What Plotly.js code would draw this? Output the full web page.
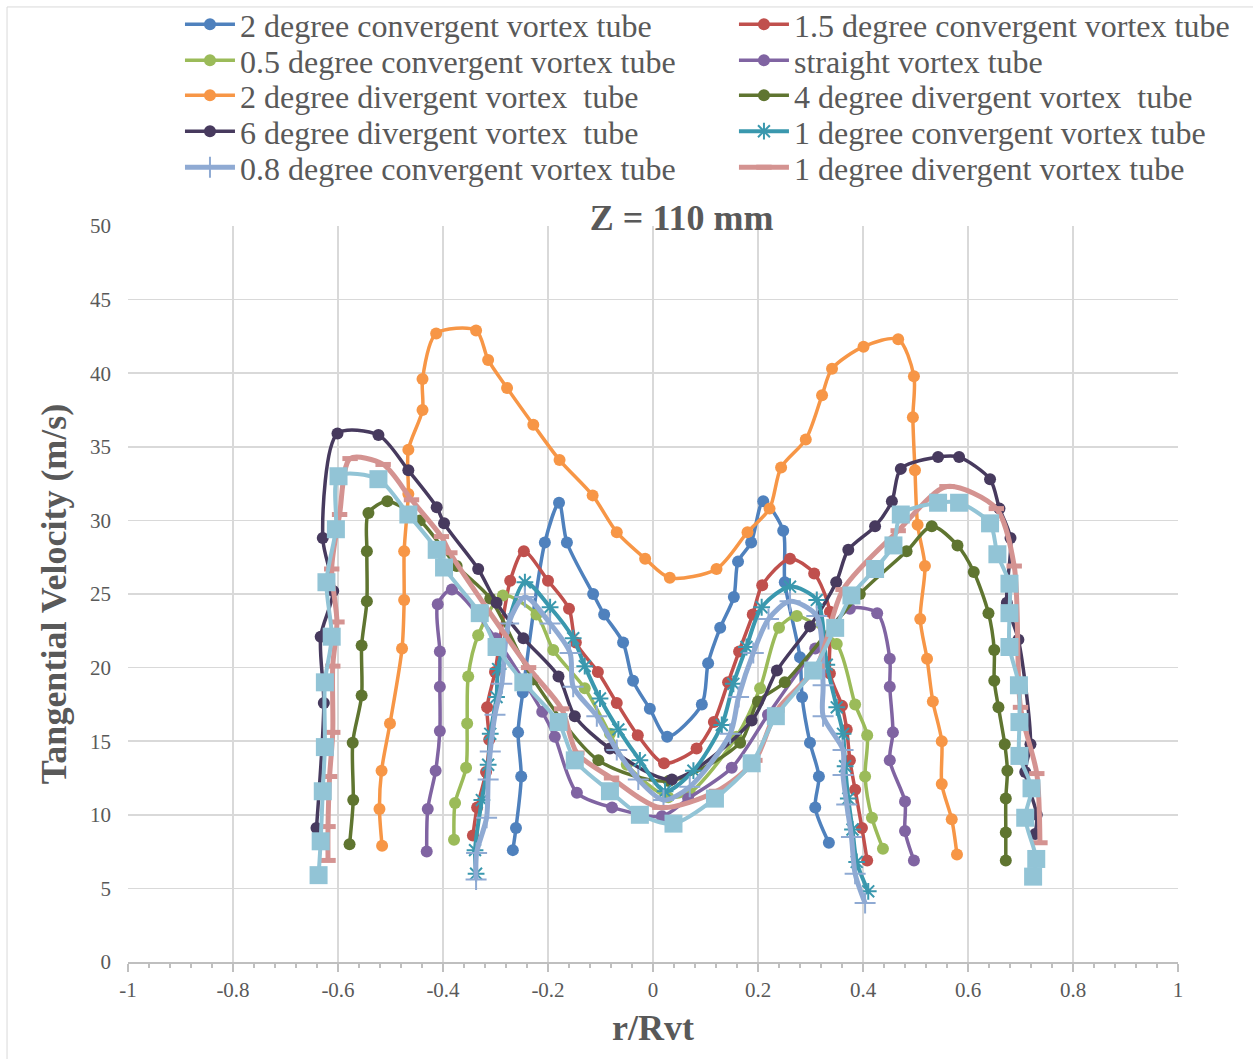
<!DOCTYPE html>
<html>
<head>
<meta charset="utf-8">
<script src="https://cdn.plot.ly/plotly-3.0.1.min.js"></script>
<style>html,body{margin:0;padding:0;background:#fff;}#chart{width:1253px;height:1059px;}</style>
</head>
<body>
<div id="chart"></div>
<script>
// ---- data (r/Rvt, tangential velocity m/s) ----
const conv2_x = [-0.267,-0.261,-0.251,-0.257,-0.248,-0.206,-0.179,-0.164,-0.114,-0.093,-0.057,-0.038,-0.006,0.027,0.093,0.105,0.128,0.154,0.162,0.187,0.210,0.248,0.251,0.280,0.284,0.299,0.316,0.309,0.335];
const conv2_y = [7.6,9.1,12.6,15.6,18.3,28.5,31.2,28.5,25.0,23.6,21.7,19.1,17.2,15.3,17.5,20.3,22.7,24.8,27.2,28.5,31.3,29.3,25.8,20.7,18.0,14.9,12.6,10.5,8.1];

const conv15_x = [-0.343,-0.335,-0.318,-0.312,-0.316,-0.301,-0.272,-0.246,-0.200,-0.160,-0.147,-0.105,-0.069,-0.029,0.021,0.083,0.116,0.143,0.164,0.190,0.208,0.261,0.307,0.337,0.337,0.360,0.369,0.375,0.385,0.398,0.408];
const conv15_y = [8.6,10.5,12.9,15.1,17.3,19.7,25.9,27.9,25.9,24.0,21.7,19.7,17.6,15.4,13.5,14.5,16.3,19.0,21.1,23.6,25.6,27.4,26.4,23.8,19.6,17.4,15.8,13.7,11.7,9.1,6.9];

const conv05_x = [-0.379,-0.377,-0.356,-0.354,-0.352,-0.333,-0.286,-0.222,-0.190,-0.130,-0.082,-0.050,0.029,0.070,0.159,0.204,0.240,0.274,0.350,0.385,0.408,0.404,0.417,0.438];
const conv05_y = [8.3,10.8,13.2,16.2,19.4,22.2,24.9,23.6,21.2,18.6,15.5,13.4,11.2,11.5,15.3,18.6,22.7,23.5,21.6,17.5,15.4,12.6,9.8,7.7];

const straight_x = [-0.431,-0.429,-0.414,-0.406,-0.406,-0.406,-0.410,-0.383,-0.300,-0.211,-0.187,-0.145,-0.078,0.017,0.067,0.150,0.219,0.309,0.375,0.427,0.451,0.451,0.457,0.451,0.480,0.480,0.497];
const straight_y = [7.5,10.4,13.0,15.7,18.7,21.1,24.3,25.3,22.0,17.0,15.3,11.5,10.5,9.9,11.1,13.2,16.8,21.3,24.0,23.7,20.6,18.7,15.6,13.7,10.9,8.9,6.9];

const div2_x = [-0.516,-0.521,-0.517,-0.501,-0.478,-0.474,-0.474,-0.466,-0.466,-0.439,-0.439,-0.413,-0.337,-0.314,-0.278,-0.228,-0.178,-0.115,-0.069,-0.015,0.032,0.121,0.180,0.222,0.244,0.291,0.322,0.341,0.401,0.467,0.497,0.495,0.499,0.504,0.518,0.509,0.522,0.533,0.550,0.550,0.569,0.579];
const div2_y = [7.9,10.4,13.0,16.2,21.3,24.6,27.9,31.8,34.8,37.5,39.6,42.7,42.9,40.9,39.0,36.5,34.1,31.7,29.2,27.4,26.1,26.7,29.2,30.8,33.6,35.5,38.5,40.3,41.8,42.3,39.8,37.0,33.4,29.7,26.9,23.3,20.6,17.7,15.0,12.1,9.7,7.3];

const div4_x = [-0.578,-0.571,-0.572,-0.555,-0.555,-0.545,-0.545,-0.542,-0.506,-0.444,-0.374,-0.310,-0.228,-0.104,0.030,0.166,0.200,0.251,0.394,0.483,0.531,0.580,0.611,0.639,0.650,0.650,0.658,0.670,0.675,0.672,0.672,0.672];
const div4_y = [8.0,11.0,14.9,18.1,21.5,24.5,27.9,30.5,31.3,30.0,26.9,24.7,19.2,13.7,12.3,14.9,17.7,19.0,25.0,27.9,29.6,28.3,26.5,23.7,21.2,19.1,17.3,14.8,13.0,11.1,8.8,6.9];

const div6_x = [-0.641,-0.627,-0.633,-0.609,-0.629,-0.601,-0.523,-0.466,-0.412,-0.398,-0.333,-0.298,-0.247,-0.180,-0.149,-0.082,0.036,0.188,0.236,0.299,0.349,0.372,0.423,0.455,0.472,0.543,0.583,0.642,0.660,0.681,0.674,0.696,0.719,0.709,0.731,0.728];
const div6_y = [9.1,17.6,22.1,25.2,28.8,35.9,35.8,33.4,30.9,29.8,26.7,24.4,22.0,19.4,16.7,14.5,12.4,16.4,19.8,22.8,25.8,28.0,29.6,31.3,33.5,34.3,34.3,32.8,30.8,28.8,24.4,21.9,14.8,12.9,10.0,8.7];

const conv1_x = [-0.337,-0.339,-0.326,-0.314,-0.310,-0.298,-0.295,-0.244,-0.196,-0.152,-0.130,-0.101,-0.066,-0.025,0.023,0.077,0.131,0.153,0.178,0.207,0.261,0.312,0.331,0.350,0.362,0.366,0.372,0.380,0.388,0.410];
const conv1_y = [6.0,7.6,11.0,13.4,15.5,18.0,19.9,25.8,24.1,22.0,20.1,17.9,15.8,13.7,11.6,13.0,16.1,18.9,21.4,24.1,25.5,24.6,20.2,17.3,15.5,13.3,11.1,9.0,6.8,4.8];

const conv08_x = [-0.337,-0.336,-0.317,-0.314,-0.310,-0.301,-0.288,-0.275,-0.244,-0.196,-0.158,-0.152,-0.107,-0.069,-0.028,0.020,0.070,0.147,0.163,0.191,0.220,0.261,0.312,0.324,0.324,0.362,0.362,0.369,0.378,0.385,0.404];
const conv08_y = [5.6,7.4,9.8,12.4,14.3,16.8,18.9,23.0,24.8,23.0,21.0,18.7,16.7,14.4,12.4,11.0,11.9,15.5,18.0,21.0,23.3,24.5,23.5,18.8,16.7,14.4,12.7,10.7,8.5,6.0,4.0];

const div1_x = [-0.619,-0.619,-0.616,-0.610,-0.610,-0.602,-0.612,-0.597,-0.577,-0.514,-0.460,-0.403,-0.387,-0.237,-0.174,-0.145,-0.079,0.013,0.121,0.194,0.236,0.312,0.362,0.467,0.560,0.654,0.688,0.700,0.731,0.737];
const div1_y = [6.9,9.2,12.6,15.6,20.1,23.1,26.7,30.4,34.2,33.8,31.4,28.9,27.8,20.0,17.2,14.2,12.5,10.5,11.6,13.7,17.1,20.1,25.3,29.3,32.3,30.8,26.9,17.3,12.8,8.1];

const sq_x = [-0.637,-0.633,-0.629,-0.625,-0.625,-0.612,-0.622,-0.604,-0.599,-0.523,-0.466,-0.412,-0.398,-0.330,-0.298,-0.247,-0.180,-0.149,-0.082,-0.025,0.039,0.118,0.188,0.234,0.305,0.347,0.378,0.423,0.458,0.472,0.543,0.583,0.642,0.656,0.679,0.679,0.679,0.697,0.698,0.698,0.721,0.709,0.730,0.724];
const sq_y = [5.9,8.2,11.6,14.6,19.0,22.1,25.8,29.4,33.0,32.8,30.4,28.0,26.8,23.7,21.4,19.0,16.3,13.7,11.6,10.0,9.4,11.1,13.5,16.7,19.8,22.7,24.9,26.7,28.3,30.4,31.2,31.2,29.8,27.7,25.7,23.7,21.4,18.8,16.3,14.0,11.8,9.8,7.0,5.8];

const seriesNames = [
  "2 degree convergent vortex tube",
  "1.5 degree convergent vortex tube",
  "0.5 degree convergent vortex tube",
  "straight vortex tube",
  "2 degree divergent vortex  tube",
  "4 degree divergent vortex  tube",
  "6 degree divergent vortex  tube",
  "1 degree convergent vortex tube",
  "0.8 degree convergent vortex tube",
  "1 degree divergent vortex tube"
];
const xTickVals = [-1,-0.8,-0.6,-0.4,-0.2,0,0.2,0.4,0.6,0.8,1];
const xTickText = ["-1","-0.8","-0.6","-0.4","-0.2","0","0.2","0.4","0.6","0.8","1"];

// ---- styling ----
const FONT = "Liberation Serif, Times New Roman, serif";
const TXT = "#595959";
function legendKey(i) { return i === 0 ? "legend" : "legend" + (i + 1); }
function circ(x, y, i, color) {
  return {x, y, name: seriesNames[i], legend: legendKey(i), type: "scatter", mode: "lines+markers",
    line: {color, width: 3.5, shape: "spline", smoothing: 0.8},
    marker: {symbol: "circle", size: 12, color}};
}
const traces = [
  circ(conv2_x, conv2_y, 0, "#4F81BD"),
  circ(conv15_x, conv15_y, 1, "#C0504D"),
  circ(conv05_x, conv05_y, 2, "#9BBB59"),
  circ(straight_x, straight_y, 3, "#8064A2"),
  circ(div2_x, div2_y, 4, "#F79646"),
  circ(div4_x, div4_y, 5, "#5F7530"),
  circ(div6_x, div6_y, 6, "#473A5E"),
  {x: conv1_x, y: conv1_y, name: seriesNames[7], legend: legendKey(7), type: "scatter", mode: "lines+markers",
    line: {color: "#3A98AE", width: 4, shape: "spline", smoothing: 0.8},
    marker: {symbol: "asterisk-open", size: 14, color: "#3A98AE", line: {color: "#3A98AE", width: 2}}},
  {x: conv08_x, y: conv08_y, name: seriesNames[8], legend: legendKey(8), type: "scatter", mode: "lines+markers",
    line: {color: "#8FAAD3", width: 5, shape: "spline", smoothing: 0.8},
    marker: {symbol: "cross-thin-open", size: 15, color: "#8FAAD3", line: {color: "#8FAAD3", width: 2}}},
  {x: div1_x, y: div1_y, name: seriesNames[9], legend: legendKey(9), type: "scatter", mode: "lines+markers",
    line: {color: "#D49391", width: 5, shape: "spline", smoothing: 0.8},
    marker: {symbol: "line-ew-open", size: 11, color: "#D49391", line: {color: "#D49391", width: 5}}},
  {x: sq_x, y: sq_y, name: "", showlegend: false, type: "scatter", mode: "lines+markers",
    line: {color: "#92C4D6", width: 4, shape: "spline", smoothing: 0.8},
    marker: {symbol: "square", size: 18, color: "#92C4D6"}}
];

const layout = {
  width: 1253, height: 1059,
  margin: {l: 128, r: 75, t: 226, b: 97, autoexpand: false},
  paper_bgcolor: "#ffffff", plot_bgcolor: "#ffffff",
  font: {family: FONT, color: TXT, size: 21},
  showlegend: true,
  title: {text: "<b>Z = 110 mm</b>", font: {family: FONT, size: 36, color: TXT},
    xref: "container", x: 0.544, xanchor: "center", yref: "container", y: 0.795, yanchor: "middle"},
  xaxis: {range: [-1, 1], tickvals: xTickVals, ticktext: xTickText,
    showgrid: true, gridcolor: "#D9D9D9", gridwidth: 1.5, zeroline: false,
    showline: true, linecolor: "#BFBFBF", linewidth: 1.5,
    ticks: "outside", ticklen: 8, tickcolor: "#BFBFBF", tickwidth: 1.5,
    minor: {dtick: 0.04, ticks: "outside", ticklen: 4, tickcolor: "#BFBFBF", showgrid: false},
    tickfont: {family: FONT, size: 21, color: TXT},
    title: {text: "<b>r/Rvt</b>", font: {family: FONT, size: 36, color: TXT}, standoff: 14}},
  yaxis: {range: [0, 50], dtick: 5, showgrid: true, gridcolor: "#D9D9D9", gridwidth: 1.5,
    zeroline: false, showline: false, ticks: "", ticklabelstandoff: 16,
    tickfont: {family: FONT, size: 21, color: TXT},
    title: {text: "<b>Tangential Velocity (m/s)</b>", font: {family: FONT, size: 36, color: TXT}, standoff: 12}},
  yaxis2: {overlaying: "y", anchor: "free", position: 0.5, side: "right", range: [0, 50], dtick: 5,
    showgrid: false, zeroline: false, showline: true, linecolor: "#A6A6A6", linewidth: 1.5,
    ticks: "outside", ticklen: 5, tickcolor: "#A6A6A6", showticklabels: false, fixedrange: true},
  shapes: [{type: "rect", xref: "paper", yref: "paper",
    x0: -0.1152, x1: 1.08, y0: -0.14, y1: 1.2976, line: {color: "#D9D9D9", width: 1}, layer: "below"}]
};

// two-column legend: one small legend per entry, placed in a 2 x 5 grid
const legendColX = [0.0495, 0.5771];
const legendRowY = [1.2739, 1.2250, 1.1775, 1.1285, 1.0796];
for (let i = 0; i < seriesNames.length; i++) {
  layout[legendKey(i)] = {
    x: legendColX[i % 2], xanchor: "left",
    y: legendRowY[Math.floor(i / 2)], yanchor: "middle",
    orientation: "v", bgcolor: "rgba(0,0,0,0)", borderwidth: 0, itemwidth: 50,
    font: {family: FONT, size: 32, color: TXT}
  };
}

Plotly.newPlot("chart", traces, layout, {staticPlot: true, displayModeBar: false});
</script>
</body>
</html>
